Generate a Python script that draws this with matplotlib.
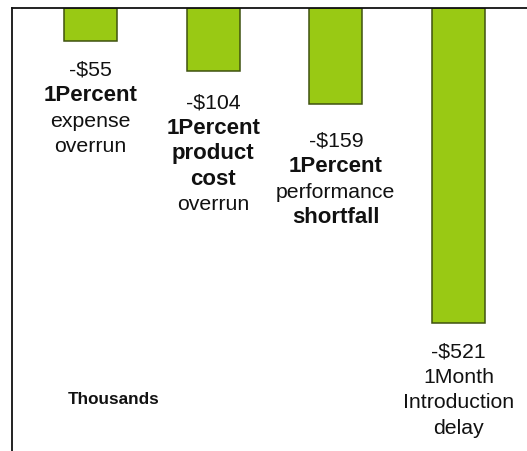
import matplotlib
matplotlib.use("Agg")
import matplotlib.pyplot as plt

plt.rcParams["font.family"] = ["Liberation Sans", "DejaVu Sans"]

# Cost of each kind of slip, in thousands of dollars
values = [-55, -104, -159, -521]
value_labels = ["-$55", "-$104", "-$159", "-$521"]
# Caption lines under each bar: (text, bold?)
captions = [
    [("1Percent", True), ("expense", False), ("overrun", False)],
    [("1Percent", True), ("product", True), ("cost", True), ("overrun", False)],
    [("1Percent", True), ("performance", False), ("shortfall", True)],
    [("1Month", False), ("Introduction", False), ("delay", False)],
]
unit_label = "Thousands"

W, H, DPI = 527, 451, 100
fig = plt.figure(figsize=(W / DPI, H / DPI), dpi=DPI)
ax = fig.add_axes([12 / W, 0, 1 - 12 / W, 1 - 8 / H])

x = list(range(len(values)))
ax.bar(x, values, width=0.432, color="#99C914", edgecolor="#3f5210",
       linewidth=1.1, zorder=2)

ax.set_xlim(-0.64, 3.558)
ax.set_ylim(-733, 0)

for side in ("right", "bottom"):
    ax.spines[side].set_visible(False)
for side in ("top", "left"):
    ax.spines[side].set_linewidth(1.3)
    ax.spines[side].set_color("#111111")
ax.set_xticks([])
ax.set_yticks([])

# gap (pixels) between bar end and the first caption line
gaps = [29, 32, 37, 29]
line_step = 25.5
for i, (v, lab, cap) in enumerate(zip(values, value_labels, captions)):
    lines = [(lab, False)] + cap
    for k, (txt, bold) in enumerate(lines):
        ax.annotate(txt, xy=(i, v), xytext=(0, -(gaps[i] + k * line_step)),
                    textcoords="offset pixels", ha="center", va="center",
                    fontsize=16 if bold else 15.3,
                    fontweight="bold" if bold else "normal",
                    color="#111111", annotation_clip=False)

fig.text(114 / W, 1 - 400 / H, unit_label, ha="center", va="center",
         fontsize=12.3, fontweight="bold", color="#111111")

fig.savefig("out.png", dpi=DPI)
